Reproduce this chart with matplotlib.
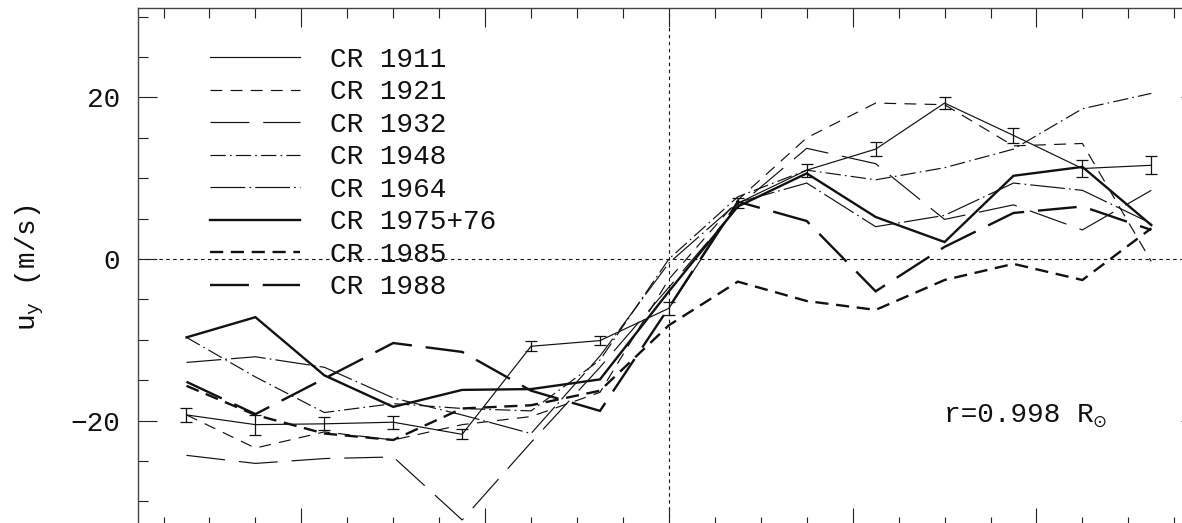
import matplotlib
matplotlib.use('Agg')
import matplotlib.pyplot as plt
from matplotlib.lines import Line2D
from matplotlib.ticker import MultipleLocator

# ---------------- data ----------------
lat = [-52.5, -45, -37.5, -30, -22.5, -15, -7.5, 0, 7.5, 15, 22.5, 30, 37.5, 45, 52.5]

cr1911     = [-19.3, -20.5, -20.4, -20.2, -21.7, -10.8, -10.1, -6.1, 6.9, 11.0, 13.6, 19.3, 15.3, 11.2, 11.6]
cr1911_err = [0.9, 1.25, 0.8, 0.8, 0.6, 0.6, 0.6, 0.8, 0.6, 0.8, 0.9, 0.7, 0.9, 1.1, 1.1]
cr1921     = [-19.3, -23.4, -21.4, -22.4, -20.5, -19.5, -16.5, -2.5, 7.3, 15.0, 19.3, 19.1, 14.0, 14.3, -0.3]
cr1932     = [-24.3, -25.3, -24.7, -24.5, -32.3, -22.7, -13.4, -3.5, 6.5, 13.7, 11.8, 4.9, 6.7, 3.6, 8.5]
cr1948     = [-9.7, -14.6, -19.0, -17.9, -18.5, -18.8, -12.5, 0.0, 7.7, 11.0, 9.8, 11.3, 13.6, 18.6, 20.5]
cr1964     = [-12.8, -12.1, -13.4, -17.2, -19.3, -21.6, -12.0, -0.5, 7.0, 9.4, 4.0, 5.4, 9.4, 8.5, 4.4]
cr1975     = [-9.7, -7.2, -14.4, -18.3, -16.2, -16.1, -14.9, -4.0, 6.5, 10.6, 5.2, 2.1, 10.3, 11.4, 4.2]
cr1985     = [-15.7, -19.3, -21.6, -22.4, -18.5, -18.1, -16.3, -8.2, -2.8, -5.2, -6.3, -2.6, -0.6, -2.6, 3.8]
cr1988     = [-15.2, -19.2, -14.8, -10.4, -11.5, -16.3, -18.8, -6.0, 7.1, 4.7, -4.0, 1.5, 5.7, 6.5, 3.6]

labels = ['CR 1911', 'CR 1921', 'CR 1932', 'CR 1948', 'CR 1964', 'CR 1975+76', 'CR 1985', 'CR 1988']
annot = 'r=0.998 R'
annot_sub = '\u2299'
ylabel = 'u$_{\\mathrm{y}}$ (m/s)'

# ---------------- style ----------------
plt.rcParams['font.family'] = ['Liberation Mono', 'DejaVu Sans']
plt.rcParams['mathtext.fontset'] = 'custom'
plt.rcParams['mathtext.rm'] = 'Liberation Mono'
plt.rcParams['mathtext.it'] = 'Liberation Mono'
plt.rcParams['lines.scale_dashes'] = False

INK = '#111111'
THIN, THICK = 0.85, 1.7
styles = [
    dict(ls='-', lw=THIN),
    dict(ls=(0, (8.5, 6.0)), lw=THIN),
    dict(ls=(0, (28, 10)), lw=THIN),
    dict(ls=(0, (11, 3, 1.2, 3)), lw=THIN),
    dict(ls=(0, (25, 3, 1.2, 3)), lw=THIN),
    dict(ls='-', lw=THICK),
    dict(ls=(0, (9.5, 5.5)), lw=THICK),
    dict(ls=(0, (28, 10)), lw=THICK),
]
series = [cr1911, cr1921, cr1932, cr1948, cr1964, cr1975, cr1985, cr1988]

W, H = 1182, 523
fig = plt.figure(figsize=(W / 100, H / 100), dpi=100)

def fx(px):
    return px / W

def fy(py):
    return 1 - py / H

# axes box (extends slightly past bottom/right edge as in the cropped original)
L, R, T, B = 137.8, 1200.0, 8.3, 527.0
ax = fig.add_axes([fx(L), fy(B), (R - L) / W, (B - T) / H])
ax.set_xlim(-57.8, 57.8)
ax.set_ylim(-33.17, 31.03)

for s in ax.spines.values():
    s.set_linewidth(1.0)
    s.set_color('#444444')

ax.xaxis.set_major_locator(MultipleLocator(20))
ax.xaxis.set_minor_locator(MultipleLocator(5))
ax.yaxis.set_major_locator(MultipleLocator(20))
ax.yaxis.set_minor_locator(MultipleLocator(5))
ax.tick_params(which='both', direction='in', top=True, right=True, bottom=True, left=True,
               labelbottom=False, color='#222222', width=0.8)
ax.tick_params(which='major', length=14)
ax.tick_params(which='minor', length=7)
ax.tick_params(axis='y', which='major', labelsize=20, pad=12.5, labelcolor=INK)

# reference lines
ax.axhline(0, color=INK, lw=0.8, ls=(0, (2.5, 2.5)), zorder=1)
ax.axvline(0, color=INK, lw=0.8, ls=(0, (2.5, 2.5)), zorder=1)

# data lines
for y, st in zip(series, styles):
    ax.plot(lat, y, color=INK, solid_joinstyle='miter', dash_joinstyle='miter', **st)

ax.errorbar(lat, cr1911, yerr=cr1911_err, fmt='none', ecolor=INK, elinewidth=0.9,
            capsize=4.5, capthick=0.9)

# legend (manual, matching original layout)
for i, (lab, st) in enumerate(zip(labels, styles)):
    yk = 57.3 + 32.5 * i
    fig.add_artist(Line2D([fx(210), fx(300)], [fy(yk), fy(yk)], transform=fig.transFigure,
                          color=INK, **st))
    fig.text(fx(330), fy(66.7 + 32.5 * i), lab, fontsize=20, color=INK,
             ha='left', va='baseline')

fig.text(fx(944), fy(421.5), annot, fontsize=20, color=INK, ha='left', va='baseline')
fig.text(fx(1092), fy(427), annot_sub, fontsize=12, color=INK, ha='left', va='baseline',
         family=['DejaVu Sans'])
fig.text(fx(30), fy(268), ylabel, fontsize=20, color=INK, rotation=90,
         ha='center', va='center')

fig.savefig('out.png', dpi=100)
